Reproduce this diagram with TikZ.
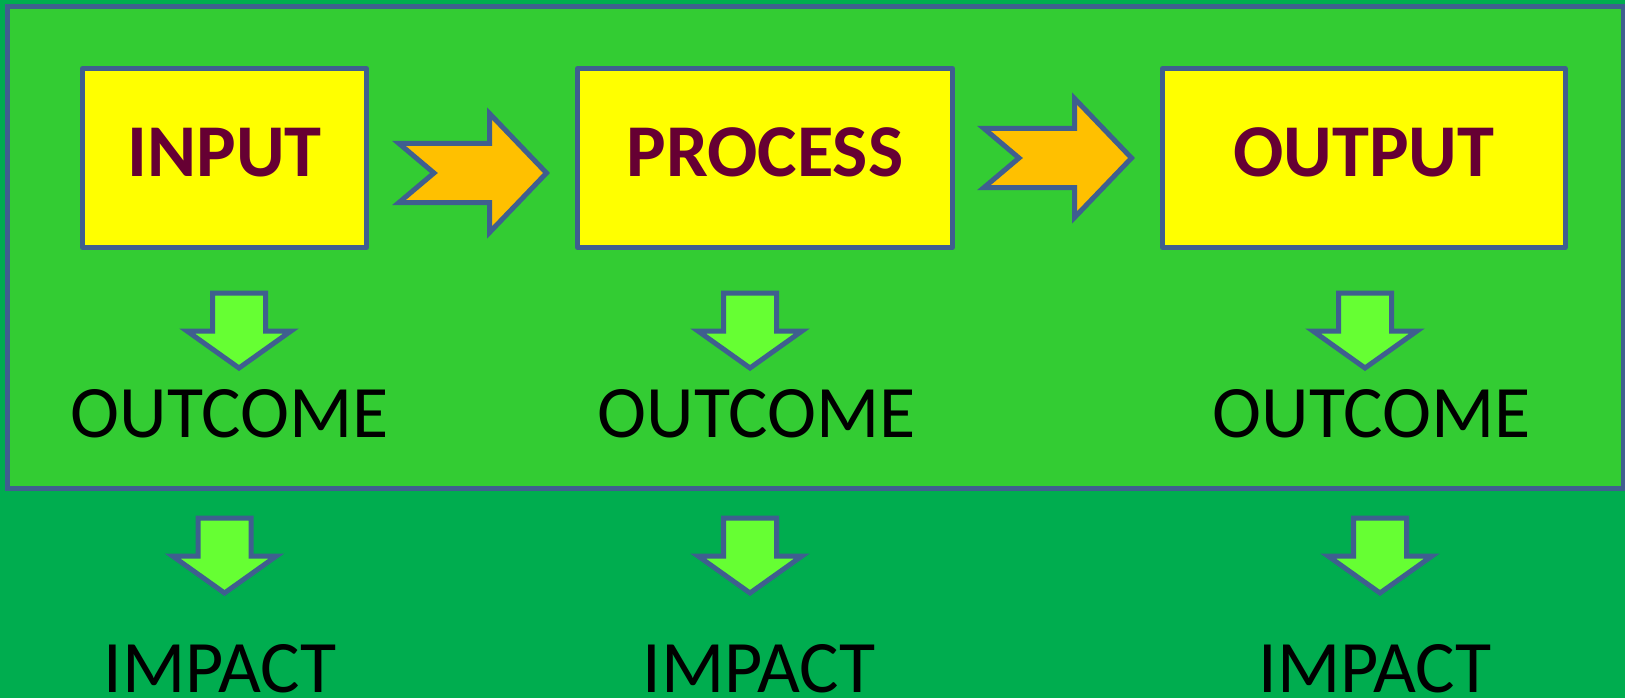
\documentclass[tikz,border=0pt]{standalone}
\usepackage{fontspec}
\setmainfont{Carlito}
\usepackage{tikz}
\usetikzlibrary{positioning}
\usepackage{xcolor}
\definecolor{outergreen}{HTML}{00AD4F}
\definecolor{innergreen}{HTML}{33CC33}
\definecolor{framecol}{HTML}{3F5F8F}
\definecolor{boxyellow}{HTML}{FFFF00}
\definecolor{textmaroon}{HTML}{660033}
\definecolor{chevcol}{HTML}{FFC000}
\definecolor{limecol}{HTML}{66FF33}

% block arrow to the right, tail point at (#1,#2)
\newcommand{\stagechevron}[2]{\draw[blockarrow,fill=chevcol] (#1,#2) ++(0,-29.5) -- ++(90.5,0) -- ++(0,-30) -- ++(57,59.5) -- ++(-57,59.5) -- ++(0,-30) -- ++(-90.5,0) -- ++(35,-29.5) -- cycle;}
% block arrow pointing down, top middle at (#1,#2)
\newcommand{\downblock}[2]{\draw[blockarrow,fill=limecol] (#1,#2) ++(-26.5,0) -- ++(53,0) -- ++(0,38) -- ++(25.5,0) -- ++(-52,37) -- ++(-52,-37) -- ++(25.5,0) -- cycle;}

\begin{document}
\begin{tikzpicture}[x=1pt,y=-1pt,
    stagebox/.style={draw=framecol,fill=boxyellow,line width=5pt,line join=round,text=textmaroon,font=\fontsize{74.5}{80}\selectfont\bfseries,text depth=12pt,inner sep=0pt,minimum height=179pt},
    blockarrow/.style={draw=framecol,line width=5pt},
    stagetext/.style={anchor=base,inner sep=0pt,font=\fontsize{74}{80}\selectfont}]
    \useasboundingbox[fill=outergreen] (0,0) rectangle (1625,698);
    \draw[fill=innergreen,draw=framecol,line width=5pt] (7,7) rectangle (1623,488);

    \node[stagebox,minimum width=284pt] (input) at (224.5,158) {INPUT};
    \node[stagebox,minimum width=375pt] (process) at (765,158) {PROCESS};
    \node[stagebox,minimum width=402.5pt] (output) at (1363.75,158) {OUTPUT};

    \stagechevron{399}{173}
    \stagechevron{984}{158}

    \foreach \x/\y in {239/293,750/293,1365/293,224.5/518,750/518,1380/518}
      \downblock{\x}{\y};

    \node[stagetext] (outcomeA) at (230,437) {OUTCOME};
    \node[stagetext] (outcomeB) at (757,437) {OUTCOME};
    \node[stagetext] (outcomeC) at (1372,437) {OUTCOME};
    \node[stagetext] (impactA) at (220,692) {IMPACT};
    \node[stagetext] (impactB) at (759,692) {IMPACT};
    \node[stagetext] (impactC) at (1375,692) {IMPACT};
\end{tikzpicture}
\end{document}
